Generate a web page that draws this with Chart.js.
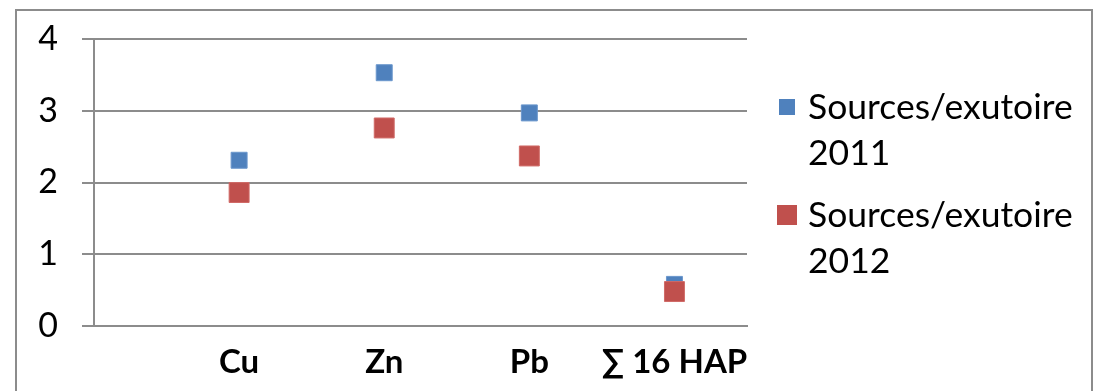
<!DOCTYPE html>
<html>
<head>
<meta charset="utf-8">
<script src="https://cdn.jsdelivr.net/npm/chart.js@4/dist/chart.umd.min.js"></script>
<style>
  html, body { margin: 0; padding: 0; background: #ffffff; }
  #wrap { width: 1097px; height: 391px; }
</style>
</head>
<body>
<div id="wrap"><canvas id="c" width="1097" height="391"></canvas></div>
<script>
// Ratios sources / exutoire per pollutant
const categories = ['Cu', 'Zn', 'Pb', '\u2211 16 HAP'];
const ratio2011 = [2.31, 3.53, 2.97, 0.58];
const ratio2012 = [1.86, 2.76, 2.37, 0.48];
const seriesLabels = [['Sources/exutoire', '2011'], ['Sources/exutoire', '2012']];
const yTicks = [0, 1, 2, 3, 4];

const FONT = 'Lato, "DejaVu Sans", sans-serif';
const GRID = '#8c8c8c';
const BLUE = '#4f81bd';
const RED = '#c0504d';

const toPoints = vals => vals.map((v, i) => ({ x: i + 1, y: v }));

// Outer frame of the chart
const framePlugin = {
  id: 'frame',
  beforeDraw(chart) {
    const ctx = chart.ctx;
    ctx.save();
    ctx.fillStyle = '#ffffff';
    ctx.fillRect(0, 0, chart.width, chart.height);
    ctx.strokeStyle = GRID;
    ctx.lineWidth = 2;
    ctx.strokeRect(16, 10, 1076, 400);
    ctx.restore();
  }
};

// Legend on the right with two-line labels
const sideLegend = {
  id: 'sideLegend',
  afterDraw(chart) {
    const ctx = chart.ctx;
    const area = chart.chartArea;
    const boxX = area.right + 40;
    const textX = area.right + 61;
    const rows = [
      { ds: chart.data.datasets[0], y: 107, size: 16 },
      { ds: chart.data.datasets[1], y: 215, size: 20 }
    ];
    ctx.save();
    ctx.font = '35.5px ' + FONT;
    ctx.fillStyle = '#000000';
    ctx.textBaseline = 'middle';
    ctx.textAlign = 'left';
    rows.forEach(r => {
      ctx.fillStyle = r.ds.backgroundColor;
      ctx.fillRect(boxX - r.size / 2, r.y - r.size / 2, r.size, r.size);
      ctx.fillStyle = '#000000';
      r.ds.legendLines.forEach((line, i) => {
        ctx.fillText(line, textX, r.y + 1 + i * 46);
      });
    });
    ctx.restore();
  }
};

new Chart(document.getElementById('c'), {
  type: 'scatter',
  data: {
    datasets: [
      {
        label: seriesLabels[0].join(' '),
        legendLines: seriesLabels[0],
        data: toPoints(ratio2011),
        backgroundColor: BLUE,
        borderColor: '#6a96cc',
        borderWidth: 1,
        pointStyle: 'rect',
        pointRadius: 11.3,
        pointHoverRadius: 11.3,
        order: 1
      },
      {
        label: seriesLabels[1].join(' '),
        legendLines: seriesLabels[1],
        data: toPoints(ratio2012),
        backgroundColor: RED,
        borderColor: '#d06a67',
        borderWidth: 1,
        pointStyle: 'rect',
        pointRadius: 14.1,
        pointHoverRadius: 14.1,
        order: 0
      }
    ]
  },
  options: {
    responsive: false,
    devicePixelRatio: 1,
    animation: false,
    layout: { padding: { top: 39, right: 350, bottom: 0, left: 1 } },
    plugins: {
      legend: { display: false },
      tooltip: { enabled: false }
    },
    scales: {
      x: {
        type: 'linear',
        min: 0,
        max: 4.5,
        afterBuildTicks(scale) {
          scale.ticks = categories.map((_, i) => ({ value: i + 1 }));
        },
        afterFit(scale) {
          scale.height = 65;
          scale.paddingLeft = 0;
          scale.paddingRight = 0;
        },
        grid: { display: false },
        border: { display: true, color: GRID, width: 2 },
        ticks: {
          autoSkip: false,
          maxRotation: 0,
          padding: 9,
          color: '#000000',
          font: { family: FONT, size: 33, weight: 'bold' },
          callback: v => categories[v - 1] || ''
        }
      },
      y: {
        min: yTicks[0],
        max: yTicks[yTicks.length - 1],
        afterBuildTicks(scale) {
          scale.ticks = yTicks.map(v => ({ value: v }));
        },
        afterFit(scale) {
          scale.width = 93;
          scale.paddingTop = 0;
          scale.paddingBottom = 0;
        },
        grid: {
          color: GRID,
          lineWidth: 2,
          drawTicks: true,
          tickLength: 12,
          tickColor: GRID
        },
        border: { display: true, color: GRID, width: 2 },
        ticks: {
          padding: 24,
          color: '#000000',
          font: { family: FONT, size: 34 }
        }
      }
    }
  },
  plugins: [framePlugin, sideLegend]
});
</script>
</body>
</html>
